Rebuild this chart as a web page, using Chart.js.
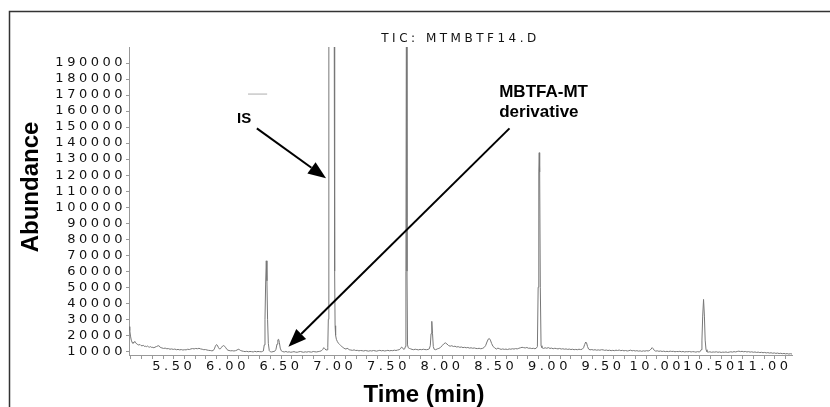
<!DOCTYPE html>
<html>
<head>
<meta charset="utf-8">
<title>TIC: MTMBTF14.D</title>
<script src="https://cdn.jsdelivr.net/npm/chart.js@4.4.1/dist/chart.umd.min.js"></script>
<style>
  html, body { margin: 0; padding: 0; background: #fff; }
  #wrap { width: 830px; height: 407px; position: relative; }
</style>
</head>
<body>
<div id="wrap"><canvas id="tic"></canvas></div>
<script>
// retention time (min) and abundance
const timeMin = [
  5.083, 5.090, 5.097, 5.104, 5.112, 5.120, 5.130, 5.138, 5.146, 5.155,
  5.165, 5.175, 5.185, 5.195, 5.205, 5.215, 5.225, 5.235, 5.245, 5.255,
  5.265, 5.275, 5.285, 5.295, 5.305, 5.315, 5.325, 5.340, 5.355, 5.365,
  5.375, 5.390, 5.405, 5.420, 5.435, 5.450, 5.465, 5.480, 5.495, 5.510,
  5.525, 5.540, 5.555, 5.570, 5.585, 5.600, 5.615, 5.630, 5.645, 5.660,
  5.675, 5.690, 5.705, 5.720, 5.735, 5.750, 5.765, 5.780, 5.795, 5.810,
  5.825, 5.840, 5.855, 5.868, 5.878, 5.888, 5.898, 5.906, 5.915, 5.925,
  5.935, 5.945, 5.955, 5.965, 5.975, 5.985, 5.995, 6.005, 6.015, 6.030,
  6.045, 6.060, 6.075, 6.090, 6.100, 6.110, 6.120, 6.135, 6.150, 6.165,
  6.180, 6.195, 6.210, 6.225, 6.240, 6.255, 6.270, 6.285, 6.300, 6.315,
  6.325, 6.335, 6.343, 6.350, 6.356, 6.362, 6.368, 6.374, 6.381, 6.390,
  6.400, 6.412, 6.425, 6.440, 6.452, 6.462, 6.470, 6.477, 6.484, 6.492,
  6.502, 6.515, 6.530, 6.545, 6.560, 6.575, 6.590, 6.605, 6.620, 6.635,
  6.650, 6.665, 6.680, 6.695, 6.710, 6.725, 6.740, 6.755, 6.770, 6.785,
  6.800, 6.815, 6.830, 6.845, 6.860, 6.875, 6.888, 6.898, 6.908, 6.918,
  6.928, 6.935, 6.940, 6.945, 6.970, 6.994, 6.999, 7.003, 7.008, 7.015,
  7.025, 7.035, 7.045, 7.055, 7.065, 7.075, 7.085, 7.095, 7.105, 7.115,
  7.125, 7.135, 7.150, 7.165, 7.180, 7.195, 7.210, 7.225, 7.240, 7.255,
  7.270, 7.285, 7.300, 7.315, 7.330, 7.345, 7.360, 7.375, 7.390, 7.405,
  7.420, 7.435, 7.450, 7.465, 7.480, 7.495, 7.510, 7.525, 7.540, 7.555,
  7.570, 7.585, 7.600, 7.612, 7.622, 7.632, 7.642, 7.652, 7.658, 7.663,
  7.668, 7.673, 7.678, 7.685, 7.695, 7.705, 7.720, 7.735, 7.750, 7.765,
  7.780, 7.795, 7.810, 7.825, 7.840, 7.855, 7.870, 7.880, 7.890, 7.897,
  7.904, 7.911, 7.918, 7.926, 7.940, 7.955, 7.970, 7.985, 8.000, 8.015,
  8.030, 8.045, 8.060, 8.075, 8.090, 8.105, 8.120, 8.135, 8.150, 8.165,
  8.180, 8.195, 8.210, 8.225, 8.240, 8.255, 8.270, 8.285, 8.300, 8.315,
  8.330, 8.345, 8.360, 8.375, 8.390, 8.405, 8.418, 8.430, 8.440, 8.450,
  8.462, 8.475, 8.490, 8.505, 8.520, 8.535, 8.550, 8.565, 8.580, 8.595,
  8.610, 8.625, 8.640, 8.655, 8.670, 8.685, 8.700, 8.715, 8.730, 8.745,
  8.760, 8.775, 8.790, 8.805, 8.820, 8.835, 8.850, 8.865, 8.878, 8.888,
  8.895, 8.901, 8.905, 8.909, 8.915, 8.922, 8.930, 8.945, 8.960, 8.975,
  8.990, 9.005, 9.020, 9.035, 9.050, 9.065, 9.080, 9.095, 9.110, 9.125,
  9.140, 9.155, 9.170, 9.185, 9.200, 9.215, 9.230, 9.245, 9.260, 9.275,
  9.290, 9.305, 9.318, 9.328, 9.338, 9.346, 9.355, 9.365, 9.378, 9.395,
  9.410, 9.425, 9.440, 9.455, 9.470, 9.485, 9.500, 9.515, 9.530, 9.545,
  9.560, 9.575, 9.590, 9.605, 9.620, 9.635, 9.650, 9.665, 9.680, 9.695,
  9.710, 9.725, 9.740, 9.755, 9.770, 9.785, 9.800, 9.815, 9.830, 9.845,
  9.860, 9.875, 9.890, 9.905, 9.920, 9.935, 9.947, 9.957, 9.967, 9.978,
  9.990, 10.005, 10.020, 10.035, 10.050, 10.065, 10.080, 10.095, 10.110, 10.125,
  10.140, 10.155, 10.170, 10.185, 10.200, 10.215, 10.230, 10.245, 10.260, 10.275,
  10.290, 10.305, 10.320, 10.335, 10.350, 10.365, 10.380, 10.395, 10.405, 10.413,
  10.421, 10.428, 10.436, 10.444, 10.451, 10.459, 10.468, 10.480, 10.495, 10.510,
  10.525, 10.540, 10.555, 10.570, 10.585, 10.600, 10.615, 10.630, 10.645, 10.660,
  10.675, 10.690, 10.705, 10.720, 10.735, 10.750, 10.765, 10.780, 10.795, 10.810,
  10.825, 10.840, 10.855, 10.870, 10.885, 10.900, 10.915, 10.930, 10.945, 10.960,
  10.975, 10.990, 11.005, 11.020, 11.035, 11.050, 11.065, 11.080, 11.095, 11.110,
  11.125, 11.140, 11.155, 11.170, 11.185, 11.200, 11.215, 11.230, 11.245, 11.260
];
const abundance = [
  25400, 23000, 19500, 17000, 15600, 15000, 15800, 16100, 15300, 14600,
  14200, 13900, 14300, 13600, 13400, 13800, 13100, 13200, 12900, 13300,
  12800, 12600, 12900, 12400, 12500, 12200, 12600, 13000, 13500, 13300,
  12400, 12100, 11800, 12000, 11600, 11700, 11300, 11500, 11200, 11400,
  11000, 11200, 10900, 11100, 10800, 11000, 10900, 11300, 11100, 11500,
  11700, 11500, 11800, 11600, 11900, 11500, 11300, 11000, 11100, 10800,
  10600, 10500, 10300, 10500, 11500, 13200, 14200, 13800, 12500, 11500,
  11600, 12500, 13300, 13600, 13100, 12200, 11200, 10700, 10500, 10300,
  10400, 10200, 10400, 10800, 11300, 11100, 10600, 10200, 10000, 9800,
  10000, 9700, 9900, 9800, 9600, 10000, 9700, 9900, 9800, 9700,
  9900, 10200, 14000, 30000, 52000, 66500, 54000, 30000, 15000, 10400,
  9700, 9600, 9800, 10000, 11200, 14500, 17200, 17500, 15500, 12000,
  10300, 9800, 9600, 9900, 9500, 9700, 9400, 9600, 9800, 9500,
  9400, 9700, 9900, 9600, 9400, 9700, 9500, 9800, 9600, 9500,
  9900, 9700, 9600, 9800, 10000, 10300, 11200, 12300, 11600, 10800,
  10900, 12500, 30000, 250000, 600000, 250000, 60000, 26000, 20000, 17500,
  16000, 15000, 14300, 13600, 13000, 12500, 12000, 11600, 11400, 11900,
  11500, 11000, 10800, 10600, 10900, 10500, 10600, 10300, 10500, 10400,
  10200, 10500, 10300, 10100, 10400, 10200, 10500, 10300, 10100, 10400,
  10600, 10300, 10500, 10200, 10400, 10600, 10300, 10500, 10400, 10700,
  10500, 10800, 11000, 11600, 12600, 12200, 11200, 11600, 13000, 60000,
  260000, 60000, 14000, 12200, 11800, 11600, 11200, 11000, 11300, 11100,
  10900, 11200, 11000, 11300, 11100, 11000, 11200, 11500, 13500, 21000,
  28700, 21000, 13000, 11300, 11000, 11500, 11800, 12400, 13500, 14600,
  15300, 14600, 13600, 13200, 13500, 13000, 13200, 12700, 12900, 12500,
  12700, 12300, 12500, 12200, 12400, 12000, 12200, 11900, 12100, 11800,
  11700, 11900, 11600, 11800, 12300, 13500, 15800, 17600, 18000, 17000,
  14800, 13000, 12200, 11400, 12000, 11600, 11200, 11500, 11200, 11400,
  11100, 11500, 11300, 11600, 11400, 11700, 11500, 11900, 12200, 12500,
  12300, 12100, 12400, 11900, 12000, 11700, 11900, 11600, 12000, 13000,
  50000, 122000, 134000, 122000, 50000, 13500, 12300, 11800, 12200, 11900,
  12300, 11800, 12000, 11600, 11900, 11700, 11500, 11800, 11400, 11600,
  11300, 11500, 11200, 11400, 11100, 11300, 11000, 11200, 11000, 11300,
  11100, 11300, 12200, 14200, 15800, 15200, 13000, 11400, 10900, 11100,
  10800, 11000, 10700, 10900, 10700, 11000, 10900, 10600, 10800, 10500,
  10700, 10400, 10600, 10400, 10700, 10500, 10800, 10400, 10600, 10300,
  10500, 10200, 10400, 10700, 10300, 10500, 10200, 10400, 10100, 10300,
  10000, 10300, 10100, 10400, 10200, 10600, 11400, 12300, 11600, 10500,
  10100, 10300, 10000, 10200, 9900, 10100, 9800, 10000, 9800, 10100,
  9900, 10000, 9700, 9900, 9800, 10000, 9700, 9900, 9600, 9800,
  9700, 9900, 9600, 9800, 9700, 9500, 9800, 9600, 9900, 11000,
  17000, 32000, 42400, 32000, 17000, 11000, 9700, 9500, 9700, 9400,
  9600, 9500, 9700, 9400, 9600, 9300, 9500, 9400, 9600, 9300,
  9500, 9700, 9500, 9800, 9600, 9900, 10100, 9800, 10000, 9700,
  9900, 9600, 9800, 9500, 9700, 9400, 9600, 9300, 9500, 9200,
  9400, 9100, 9300, 9000, 9200, 8900, 9100, 8800, 9000, 8700,
  8900, 8600, 8800, 8500, 8700, 8400, 8600, 8300, 8500, 8300
];

// axis ticks
const yTicks = [10000, 20000, 30000, 40000, 50000, 60000, 70000, 80000, 90000, 100000,
  110000, 120000, 130000, 140000, 150000, 160000, 170000, 180000, 190000];
const xMajorTicks = [5.5, 6.0, 6.5, 7.0, 7.5, 8.0, 8.5, 9.0, 9.5, 10.0, 10.5, 11.0];
const xMinorStep = 0.1;

// annotations, in data units [time, abundance]
const isArrow = [[6.274, 149200], [6.919, 118000]];
const mtArrow = [[8.628, 149200], [6.568, 12870]];
const notes = [
  { text: 'IS', t: 6.09, v: 152500, size: 15 },
  { text: 'MBTFA-MT', t: 8.532, v: 169000, size: 17 },
  { text: 'derivative', t: 8.532, v: 156600, size: 17 }
];
const greyDash = [[6.192, 170600], [6.370, 170600]];

const SPACING = '3.5px';

const isMajor = v => xMajorTicks.some(m => Math.abs(m - v) < 1e-6);

const spacedText = {
  id: 'spacedText',
  beforeLayout(chart) { chart.ctx.letterSpacing = SPACING; },
  afterLayout(chart) { chart.ctx.letterSpacing = '0px'; },
  beforeDraw(chart) {
    const ctx = chart.ctx;
    // frame round the whole figure
    ctx.save();
    ctx.strokeStyle = '#333';
    ctx.lineWidth = 1.5;
    ctx.strokeRect(9.5, 11.5, 900, 500);
    ctx.restore();
    ctx.letterSpacing = SPACING;
  },
  beforeDatasetsDraw(chart) { chart.ctx.letterSpacing = '0px'; }
};

function drawArrow(ctx, x1, y1, x2, y2, head, half) {
  const a = Math.atan2(y2 - y1, x2 - x1);
  const bx = x2 - head * Math.cos(a), by = y2 - head * Math.sin(a);
  ctx.beginPath();
  ctx.moveTo(x1, y1);
  ctx.lineTo(bx, by);
  ctx.stroke();
  ctx.beginPath();
  ctx.moveTo(x2, y2);
  ctx.lineTo(bx + half * Math.sin(a), by - half * Math.cos(a));
  ctx.lineTo(bx - half * Math.sin(a), by + half * Math.cos(a));
  ctx.closePath();
  ctx.fill();
}

const extras = {
  id: 'extras',
  afterDraw(chart) {
    const ctx = chart.ctx;
    const xs = chart.scales.x, ys = chart.scales.y;
    const px = t => xs.getPixelForValue(t);
    const py = v => ys.getPixelForValue(v);
    ctx.save();
    ctx.letterSpacing = '0px';
    ctx.fillStyle = '#000';

    // axis titles
    ctx.font = 'bold 24px "Liberation Sans"';
    ctx.textAlign = 'center';
    ctx.textBaseline = 'alphabetic';
    ctx.fillText('Time (min)', 424, 402);
    ctx.save();
    ctx.translate(38, 187);
    ctx.rotate(-Math.PI / 2);
    ctx.fillText('Abundance', 0, 0);
    ctx.restore();

    // labels
    ctx.textAlign = 'left';
    notes.forEach(n => {
      ctx.font = 'bold ' + n.size + 'px "Liberation Sans"';
      ctx.fillText(n.text, px(n.t), py(n.v));
    });

    // arrows
    ctx.strokeStyle = '#000';
    ctx.lineWidth = 2;
    [isArrow, mtArrow].forEach(a => {
      drawArrow(ctx, px(a[0][0]), py(a[0][1]), px(a[1][0]), py(a[1][1]), 18, 7);
    });

    ctx.strokeStyle = '#c8c8c8';
    ctx.lineWidth = 1.5;
    ctx.beginPath();
    ctx.moveTo(px(greyDash[0][0]), py(greyDash[0][1]));
    ctx.lineTo(px(greyDash[1][0]), py(greyDash[1][1]));
    ctx.stroke();
    ctx.restore();
  }
};

const tickFont = { family: 'DejaVu Sans', size: 13 };

new Chart(document.getElementById('tic'), {
  type: 'line',
  data: {
    datasets: [{
      data: timeMin.map((t, i) => ({ x: t, y: abundance[i] })),
      borderColor: '#777',
      borderWidth: 1,
      pointRadius: 0,
      tension: 0,
      fill: false
    }]
  },
  options: {
    responsive: true,
    maintainAspectRatio: false,
    animation: false,
    layout: { padding: { left: 0, right: 38, top: 0, bottom: 0 } },
    plugins: {
      legend: { display: false },
      tooltip: { enabled: false },
      title: {
        display: true,
        text: 'TIC: MTMBTF14.D',
        fullSize: false,
        color: '#111',
        font: { family: 'DejaVu Sans', size: 12, weight: 'normal' },
        padding: { top: 32, bottom: 0.6 }
      }
    },
    scales: {
      x: {
        type: 'linear',
        min: 5.083,
        max: 11.26,
        afterBuildTicks(scale) {
          const ticks = [];
          for (let v = 5.1; v <= 11.2 + 1e-9; v += xMinorStep) ticks.push({ value: Math.round(v * 10) / 10 });
          scale.ticks = ticks;
        },
        afterFit(scale) { scale.height = 52; },
        ticks: {
          autoSkip: false,
          maxRotation: 0,
          minRotation: 0,
          padding: 0,
          color: '#111',
          font: tickFont,
          showLabelBackdrop: ctx => isMajor(ctx.tick.value),
          backdropColor: ctx => isMajor(ctx.tick.value) ? '#fff' : 'rgba(0,0,0,0)',
          backdropPadding: { left: 3, right: 0, top: 0, bottom: 0 },
          callback(value) {
            return isMajor(value) ? value.toFixed(2) : '';
          }
        },
        grid: { drawOnChartArea: false, color: '#999', tickLength: 4 },
        border: { display: true, color: '#999', width: 1 }
      },
      y: {
        type: 'linear',
        min: 7700,
        max: 200000,
        afterBuildTicks(scale) { scale.ticks = yTicks.map(v => ({ value: v })); },
        afterFit(scale) { scale.width = 129; },
        ticks: {
          autoSkip: false,
          padding: 0,
          color: '#111',
          font: tickFont,
          callback(value) { return String(value); }
        },
        grid: { drawOnChartArea: false, color: '#999', tickLength: 3 },
        border: { display: true, color: '#999', width: 1 }
      }
    }
  },
  plugins: [spacedText, extras]
});
</script>
</body>
</html>
